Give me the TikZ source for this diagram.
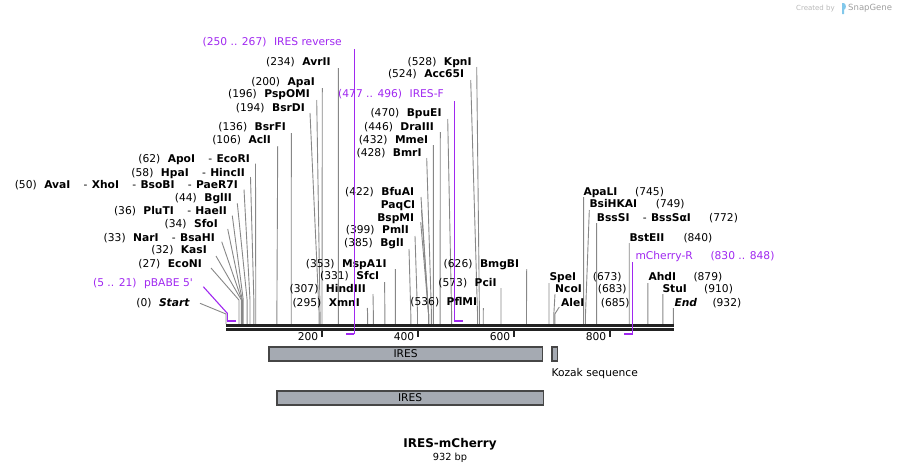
\documentclass[tikz,border=0pt]{standalone}
\usepackage{fontspec}
\setmainfont{DejaVu Sans}
\definecolor{primerc}{RGB}{160,40,240}
\definecolor{leadc}{RGB}{135,135,135}
\definecolor{bbc}{RGB}{34,34,34}
\definecolor{featfill}{RGB}{165,170,178}
\definecolor{featdraw}{RGB}{70,70,70}
\definecolor{wmblue}{RGB}{130,200,235}
\newcommand\lgp{\hspace{0.7em}}
\newcommand\sepr{\hspace{1.25em}-\hspace{0.4em}}
\tikzset{
  lab/.style={font=\fontsize{10.7}{12}\selectfont, inner sep=0pt, text height=8.4pt, text depth=0.6pt},
  leader/.style={draw=leadc, line width=0.9pt},
  primertext/.style={text=primerc},
  primerline/.style={draw=primerc, line width=1.1pt},
  primerhook/.style={draw=primerc, line width=1.8pt},
  featbox/.style={fill=featfill, draw=featdraw, line width=1.2pt},
  ticklab/.style={font=\fontsize{10.7}{12}\selectfont, inner sep=0pt, text height=8.4pt, text depth=0.6pt},
}
% left/middle labels: name, label x (east), label y, text, site bp, start coord, bend y
\newcommand\EnzL[7]{%
  \node[lab, anchor=east] (#1) at (#2,#3) {#4};
  \coordinate (#1-a) at (#6);
  \coordinate (#1-b) at ({226+0.48*#5},#7);
  \coordinate (#1-c) at ({226+0.48*#5},324);
  \draw[leader] (#1-a) -- (#1-b) -- (#1-c);
}
% right labels: name, label x (west), label y, name text, number x, bp, start coord
\newcommand\EnzR[7]{%
  \node[lab, anchor=west] (#1) at (#2,#3) {#4};
  \node[lab, anchor=west] (#1-n) at (#5,#3) {(#6)};
  \coordinate (#1-a) at (#7);
  \coordinate (#1-b) at ({226+0.48*#6},314);
  \coordinate (#1-c) at ({226+0.48*#6},324);
  \draw[leader] (#1-a) -- (#1-b) -- (#1-c);
}
\begin{document}
\begin{tikzpicture}[x=1pt, y=-1pt]
\useasboundingbox (0,0) rectangle (901,474);

% watermark
\node[inner sep=0pt, anchor=west, text=black!28, font=\fontsize{7}{8}\selectfont] (wm1) at (796,8.5) {Created by};
\fill[wmblue] (842,3) -- (844,3) .. controls (846.5,5) and (846.5,8) .. (844,10) -- (844,14) -- (842,14) -- cycle;
\node[inner sep=0pt, anchor=west, text=black!38, font=\fontsize{8.5}{9}\selectfont] (wm2) at (848,8.5) {SnapGene};

% far-left group
\EnzL{avrii}{330.7}{61.7}{(234)\lgp\textbf{AvrII}}{234}{338.3,68}{314}
\EnzL{apai}{315}{81.7}{(200)\lgp\textbf{ApaI}}{200}{322.3,88}{314}
\EnzL{pspomi}{310}{94}{(196)\lgp\textbf{PspOMI}}{196}{316.7,100}{314}
\EnzL{bsrdi}{305}{107.3}{(194)\lgp\textbf{BsrDI}}{194}{310,113}{314}
\EnzL{bsrfi}{286}{126.7}{(136)\lgp\textbf{BsrFI}}{136}{291.3,133}{314}
\EnzL{acli}{271}{139.3}{(106)\lgp\textbf{AclI}}{106}{277.7,146}{314}
\EnzL{apoi}{250}{159}{(62)\lgp\textbf{ApoI}\sepr\textbf{EcoRI}}{62}{255.5,163.5}{300}
\EnzL{hpai}{245}{172.7}{(58)\lgp\textbf{HpaI}\sepr\textbf{HincII}}{58}{250.5,177}{300}
\EnzL{avai}{238}{184.7}{(50)\lgp\textbf{AvaI}\sepr\textbf{XhoI}\sepr\textbf{BsoBI}\sepr\textbf{PaeR7I}}{50}{244,189.5}{300}
\EnzL{bglii}{232}{197.7}{(44)\lgp\textbf{BglII}}{44}{237.3,203.3}{300}
\EnzL{pluti}{227}{211}{(36)\lgp\textbf{PluTI}\sepr\textbf{HaeII}}{36}{232.3,215.7}{300}
\EnzL{sfoi}{218}{224}{(34)\lgp\textbf{SfoI}}{34}{227.7,229}{300}
\EnzL{nari}{215}{237.3}{(33)\lgp\textbf{NarI}\sepr\textbf{BsaHI}}{33}{221.7,241.7}{300}
\EnzL{kasi}{207}{250}{(32)\lgp\textbf{KasI}}{32}{216,256}{300}
\EnzL{econi}{202}{263.3}{(27)\lgp\textbf{EcoNI}}{27}{211,268}{300}
\EnzL{start}{190}{302.3}{(0)\lgp\textbf{\textit{Start}}}{0}{200,303.3}{314}

% middle groups
\EnzL{mspa1i}{386.7}{263.3}{(353)\lgp\textbf{MspA1I}}{353}{395.3,269}{314}
\EnzL{sfci}{379.3}{276}{(331)\lgp\textbf{SfcI}}{331}{384.6,282}{314}
\EnzL{hindiii}{366}{288.3}{(307)\lgp\textbf{HindIII}}{307}{373,294}{314}
\EnzL{xmni}{360}{302.3}{(295)\lgp\textbf{XmnI}}{295}{367.3,308}{314}
\EnzL{bgli}{404}{242.7}{(385)\lgp\textbf{BglI}}{385}{409,249}{314}
\EnzL{pmli}{409}{230}{(399)\lgp\textbf{PmlI}}{399}{415,236}{314}
\EnzL{bspmi}{414.3}{217.7}{\textbf{BspMI}}{422}{420.7,222}{314}
\EnzL{paqci}{415.3}{204.3}{\textbf{PaqCI}}{422}{421.5,210}{314}
\EnzL{bfuai}{414.3}{191.7}{(422)\lgp\textbf{BfuAI}}{422}{421,197}{314}

\EnzL{kpni}{471.7}{61.7}{(528)\lgp\textbf{KpnI}}{528}{476.7,67}{314}
\EnzL{acc65i}{464.3}{74}{(524)\lgp\textbf{Acc65I}}{524}{470.7,80}{314}
\EnzL{bpuei}{441.7}{113}{(470)\lgp\textbf{BpuEI}}{470}{447.7,119}{314}
\EnzL{draiii}{434}{126.3}{(446)\lgp\textbf{DraIII}}{446}{440.3,132}{314}
\EnzL{mmei}{428.3}{139.3}{(432)\lgp\textbf{MmeI}}{432}{433.3,145}{314}
\EnzL{bmri}{421.7}{152.3}{(428)\lgp\textbf{BmrI}}{428}{426.7,158}{314}

\EnzL{bmgbi}{519.3}{263.3}{(626)\lgp\textbf{BmgBI}}{626}{526.7,269}{314}
\EnzL{pcii}{496.7}{282.3}{(573)\lgp\textbf{PciI}}{573}{501,288}{314}
\EnzL{pflmi}{477.3}{302}{(536)\lgp\textbf{PflMI}}{536}{483.3,308}{314}

% right group
\EnzR{apali}{583.3}{191.7}{\textbf{ApaLI}}{635}{745}{583.6,197}
\EnzR{bsihkai}{589.3}{204}{\textbf{BsiHKAI}}{655.7}{749}{589.3,210}
\EnzR{bsssi}{596.7}{217.3}{\textbf{BssSI}\sepr\textbf{BssSαI}}{709}{772}{596.6,223}
\EnzR{bsteii}{629.3}{237.3}{\textbf{BstEII}}{683.3}{840}{629.2,243}
\EnzR{spei}{549.3}{276.7}{\textbf{SpeI}}{592.7}{673}{549,283}
\EnzR{ncoi}{555}{288.3}{\textbf{NcoI}}{597.7}{683}{555,294}
\EnzR{alei}{561}{302.3}{\textbf{AleI}}{600.7}{685}{559.3,307}
\EnzR{ahdi}{648.3}{276.7}{\textbf{AhdI}}{693.3}{879}{647.9,283}
\EnzR{stui}{662.3}{288.3}{\textbf{StuI}}{704}{910}{662.8,294}
\EnzR{endl}{674.3}{302.3}{\textbf{\textit{End}}}{712.3}{932}{673.4,308}

% backbone
\coordinate (bbL1) at (226,325.6);
\coordinate (bbR1) at (674,325.6);
\coordinate (bbL2) at (226,329.5);
\coordinate (bbR2) at (674,329.5);
\draw[bbc, line width=2.7pt] (bbL1) -- (bbR1);
\draw[bbc, line width=2.4pt] (bbL2) -- (bbR2);

% ticks
\foreach \t in {200,400,600,800}{
  \coordinate (tk\t) at ({226+0.48*\t},331);
  \coordinate (tkb\t) at ({226+0.48*\t},336.5);
  \draw[bbc, line width=1.8pt] (tk\t) -- (tkb\t);
  \node[ticklab, anchor=east] (tl\t) at ({226+0.48*\t-3.5},336.5) {\t};
}

% primers
\node[lab, primertext, anchor=east] (pbabe) at (193,282.7) {(5 .. 21)\lgp pBABE 5\textquotesingle};
\coordinate (pb1) at (203.3,286.7);
\coordinate (pb2) at (227.3,313.3);
\coordinate (pb3) at (227.3,320.8);
\coordinate (pb4) at (235.7,320.8);
\draw[primerline] (pb1) -- (pb2) -- (pb3);
\draw[primerhook] (pb3) -- (pb4);

\node[lab, primertext, anchor=east] (iresrev) at (342,42) {(250 .. 267)\lgp IRES reverse};
\coordinate (ir1) at (354.3,49);
\coordinate (ir2) at (354.3,334);
\coordinate (ir3) at (346,334);
\draw[primerline] (ir1) -- (ir2);
\draw[primerhook] (ir2) -- (ir3);

\node[lab, primertext, anchor=east] (iresf) at (444,94) {(477 .. 496)\lgp IRES-F};
\coordinate (if1) at (454.3,101);
\coordinate (if2) at (454.3,320.8);
\coordinate (if3) at (462.7,320.8);
\draw[primerline] (if1) -- (if2);
\draw[primerhook] (if2) -- (if3);

\node[lab, primertext, anchor=west] (mchr) at (635.3,256) {mCherry-R};
\node[lab, primertext, anchor=west] (mchr-n) at (710.3,256) {(830 .. 848)};
\coordinate (mc1) at (632.7,262);
\coordinate (mc2) at (632.7,334);
\coordinate (mc3) at (624.3,334);
\draw[primerline] (mc1) -- (mc2);
\draw[primerhook] (mc2) -- (mc3);

% features
\node[featbox, minimum width=273.4pt, minimum height=14pt, inner sep=0pt, anchor=north west, lab, text height=8.4pt, text depth=0.6pt] (ires1) at (268.3,346.3) {IRES};
\node[featbox, minimum width=5.4pt, minimum height=14pt, inner sep=0pt, anchor=north west] (kozak) at (551.3,346.3) {};
\node[lab, anchor=west] (kozakl) at (551.3,373) {Kozak sequence};
\node[featbox, minimum width=266.4pt, minimum height=14pt, inner sep=0pt, anchor=north west, lab, text height=8.4pt, text depth=0.6pt] (ires2) at (276.3,390.3) {IRES};

% title
\node[inner sep=0pt, font=\fontsize{12}{14}\selectfont\bfseries] (title) at (450,444) {IRES-mCherry};
\node[inner sep=0pt, font=\fontsize{9.8}{11}\selectfont] (bp) at (450,458) {932 bp};
\end{tikzpicture}
\end{document}
